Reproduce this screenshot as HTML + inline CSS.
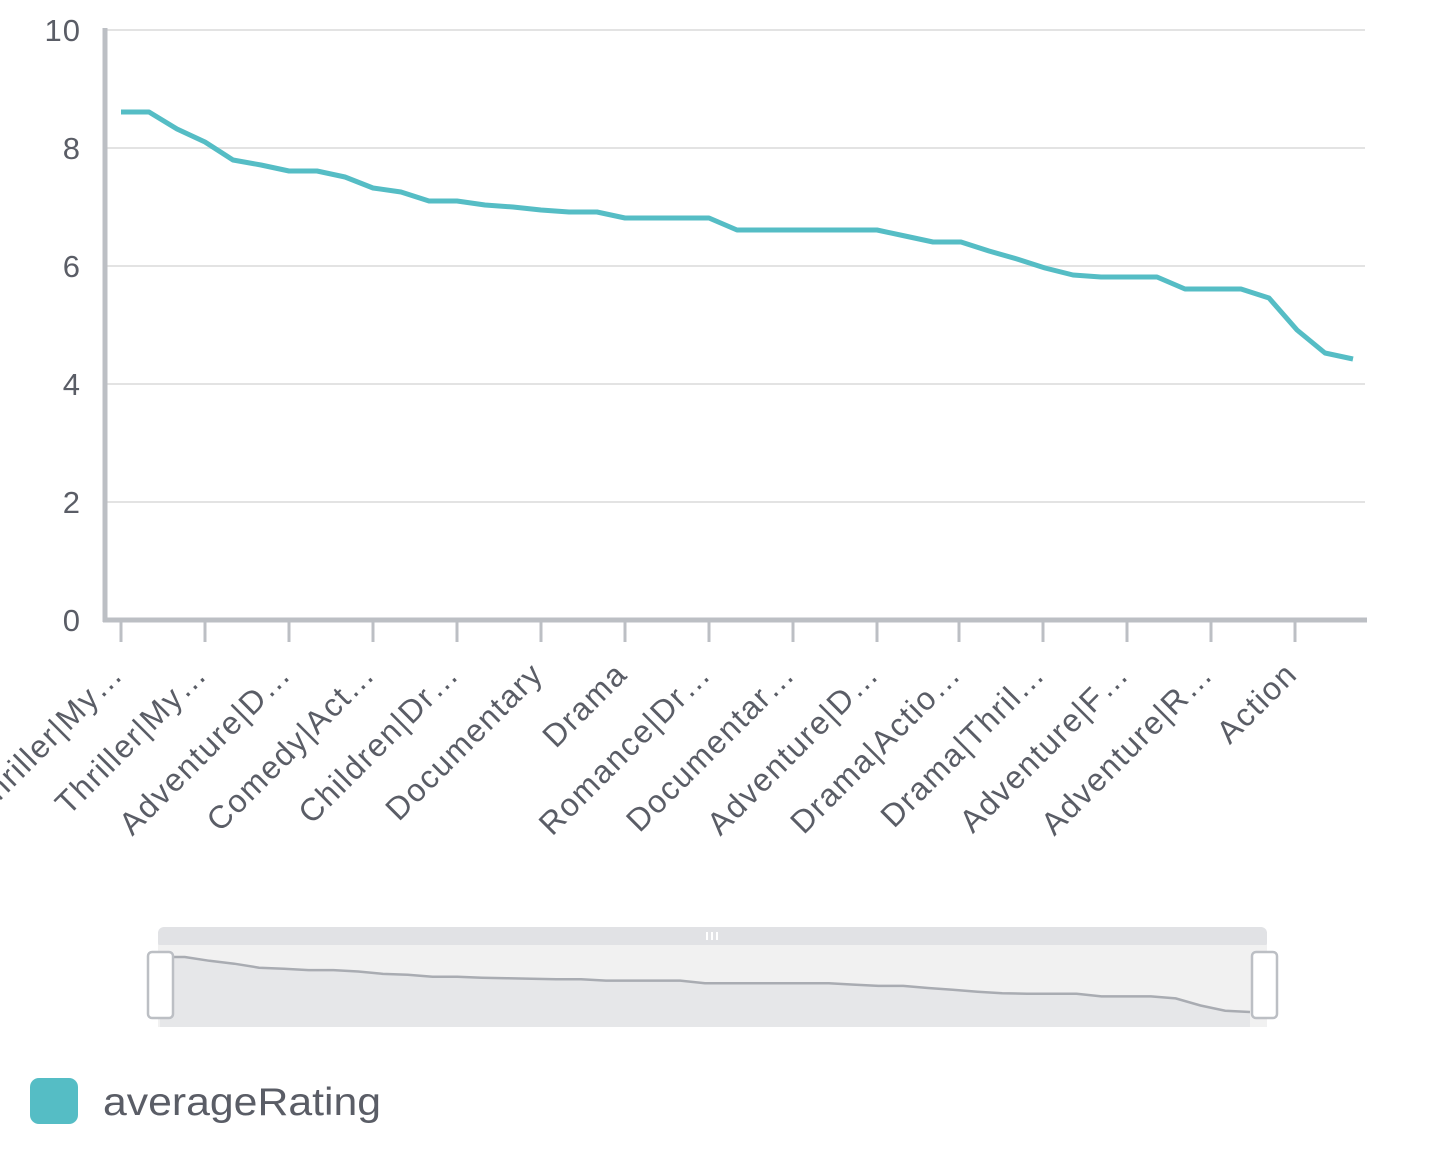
<!DOCTYPE html><html><head><style>body{margin:0;background:#fff}svg{display:block}text{font-family:"Liberation Sans",sans-serif;fill:#5a5d66}</style></head><body>
<svg id="s" width="1449" height="1161" xmlns="http://www.w3.org/2000/svg">
<g stroke="#e3e3e3" stroke-width="2">
<line x1="105" x2="1365" y1="30" y2="30"/><line x1="105" x2="1365" y1="148" y2="148"/><line x1="105" x2="1365" y1="266" y2="266"/><line x1="105" x2="1365" y1="384" y2="384"/><line x1="105" x2="1365" y1="502" y2="502"/></g>
<line x1="105" x2="105" y1="28" y2="622" stroke="#bcbfc4" stroke-width="5"/>
<line x1="103" x2="1367" y1="620" y2="620" stroke="#bcbfc4" stroke-width="5"/>
<g font-size="31" text-anchor="end" letter-spacing="1">
<text x="81" y="41">10</text><text x="81" y="159">8</text><text x="81" y="277">6</text><text x="81" y="395">4</text><text x="81" y="513">2</text><text x="81" y="631">0</text></g>
<g id="ticks" stroke="#bcbfc4" stroke-width="3"></g>
<g id="labels" font-size="32" text-anchor="end" letter-spacing="1.5"></g>
<path id="main" fill="none" stroke="#55bdc5" stroke-width="5" stroke-linejoin="round"/>
<rect x="158" y="927" width="1109" height="22" rx="6" fill="#e1e2e5"/>
<rect x="158" y="945" width="1109" height="82" fill="#f1f1f1"/>
<path id="area" fill="#e6e7e9"/>
<path id="mini" fill="none" stroke="#a9acb2" stroke-width="2.5"/>
<g fill="#fff"><rect x="706" y="932" width="2" height="8"/><rect x="711" y="932" width="2" height="8"/><rect x="716" y="932" width="2" height="8"/></g>
<rect x="148" y="952" width="25" height="66" rx="4" fill="#fff" stroke="#bcbfc4" stroke-width="2.5"/>
<rect x="1252" y="952" width="25" height="66" rx="4" fill="#fff" stroke="#bcbfc4" stroke-width="2.5"/>
<rect x="30" y="1078" width="48" height="46" rx="9" fill="#55bdc5"/>
<text x="103" y="1115" font-size="39" textLength="278" lengthAdjust="spacingAndGlyphs">averageRating</text>
</svg>
<script>
var ys=[112,112,129,142,160,165,171,171,177,188,192,201,201,205,207,210,212,212,218,218,218,218,230,230,230,230,230,230,236,242,242,251,259,268,275,277,277,277,289,289,289,298,330,353,359];
var d="",m="";
ys.forEach(function(y,i){var x=121+28*i;d+=(i?"L":"M")+x+","+y;var mx=160+i*1090/44,my=957+(y-112)*55/247;m+=(i?"L":"M")+mx.toFixed(1)+","+my.toFixed(1);});
document.getElementById("main").setAttribute("d",d);
document.getElementById("mini").setAttribute("d",m);
document.getElementById("area").setAttribute("d",m+"L1250,1027L160,1027Z");
var labs=["Thriller|My…","Thriller|My…","Adventure|D…","Comedy|Act…","Children|Dr…","Documentary","Drama","Romance|Dr…","Documentar…","Adventure|D…","Drama|Actio…","Drama|Thril…","Adventure|F…","Adventure|R…","Action"];
var tx=[121,205,289,373,457,541,625,709,793,877,959,1043,1127,1211,1295];
var T=document.getElementById("ticks"),L=document.getElementById("labels"),ns="http://www.w3.org/2000/svg";
tx.forEach(function(x,i){var l=document.createElementNS(ns,"line");l.setAttribute("x1",x);l.setAttribute("x2",x);l.setAttribute("y1",622);l.setAttribute("y2",642);T.appendChild(l);
var t=document.createElementNS(ns,"text");t.setAttribute("transform","translate("+(x+4)+",676) rotate(-45)");t.textContent=labs[i];L.appendChild(t);});
</script>
</body></html>
